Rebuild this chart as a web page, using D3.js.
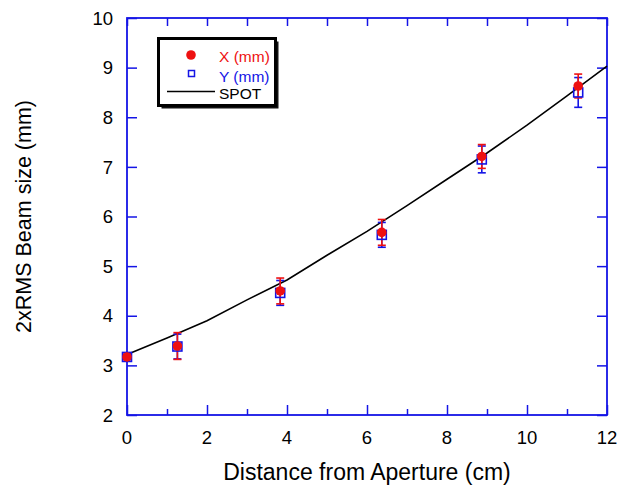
<!DOCTYPE html>
<html>
<head>
<meta charset="utf-8">
<script src="https://cdn.jsdelivr.net/npm/d3@7"></script>
<style>
  body { margin: 0; background: #fff; }
  svg text { font-family: "Liberation Sans", Arial, sans-serif; }
</style>
</head>
<body>
<svg id="chart" width="618" height="485"></svg>
<script>
// measured positions (cm) and beam sizes (mm)
const distance = [0, 1.26, 3.83, 6.37, 8.87, 11.28];
const xSize = [3.17, 3.39, 4.5, 5.68, 7.21, 8.63];
const xErr = [0.05, 0.27, 0.26, 0.26, 0.24, 0.24];
const ySize = [3.17, 3.38, 4.46, 5.63, 7.15, 8.5];
const yErr = [0.05, 0.25, 0.25, 0.25, 0.27, 0.3];

// SPOT simulation curve
const spotX = [0, 1, 2, 3, 4, 5, 6, 7, 8, 9, 10, 11, 12];
const spotY = [3.22, 3.55, 3.9, 4.32, 4.72, 5.22, 5.7, 6.22, 6.75, 7.28, 7.84, 8.43, 9.03];

const xTicks = [0, 2, 4, 6, 8, 10, 12];
const yTicks = [2, 3, 4, 5, 6, 7, 8, 9, 10];

const RED = "#ee1111";
const BLUE = "#1414e6";

const svg = d3.select("#chart");
const plotL = 127, plotR = 607, plotT = 18, plotB = 415;

const x = d3.scaleLinear().domain([0, 12]).range([plotL, plotR]);
const y = d3.scaleLinear().domain([2, 10]).range([plotB, plotT]);

// frame + ticks, all inward
const minorX = d3.range(0, 13, 1);
svg.append("g")
  .attr("transform", `translate(0,${plotB})`)
  .call(d3.axisBottom(x).tickValues(minorX).tickSize(-6).tickFormat(""))
  .call(g => g.selectAll("line").attr("stroke", BLUE).attr("stroke-width", 1.5)
    .attr("y2", d => d % 2 === 0 ? -10 : -6))
  .call(g => g.select(".domain").remove());
svg.append("g")
  .attr("transform", `translate(0,${plotT})`)
  .call(d3.axisTop(x).tickValues(minorX).tickSize(-8).tickFormat(""))
  .call(g => g.selectAll("line").attr("stroke", BLUE).attr("stroke-width", 1.5))
  .call(g => g.select(".domain").remove());
svg.append("g")
  .attr("transform", `translate(${plotL},0)`)
  .call(d3.axisLeft(y).tickValues(yTicks).tickSize(-10).tickFormat(""))
  .call(g => g.selectAll("line").attr("stroke", BLUE).attr("stroke-width", 1.5))
  .call(g => g.select(".domain").remove());
svg.append("g")
  .attr("transform", `translate(${plotR},0)`)
  .call(d3.axisRight(y).tickValues(yTicks).tickSize(-10).tickFormat(""))
  .call(g => g.selectAll("line").attr("stroke", BLUE).attr("stroke-width", 1.5))
  .call(g => g.select(".domain").remove());

svg.append("rect")
  .attr("x", plotL).attr("y", plotT)
  .attr("width", plotR - plotL).attr("height", plotB - plotT)
  .attr("fill", "none").attr("stroke", BLUE).attr("stroke-width", 1.8);

// tick labels
svg.append("g").selectAll("text")
  .data(xTicks).enter().append("text")
  .attr("x", d => x(d)).attr("y", 444)
  .attr("text-anchor", "middle")
  .attr("font-size", 18.5)
  .text(d => d);
svg.append("g").selectAll("text")
  .data(yTicks).enter().append("text")
  .attr("x", 113).attr("y", d => y(d))
  .attr("dy", "0.36em")
  .attr("text-anchor", "end")
  .attr("font-size", 18.5)
  .text(d => d);

// axis titles
svg.append("text")
  .attr("x", (plotL + plotR) / 2).attr("y", 480)
  .attr("text-anchor", "middle")
  .attr("font-size", 23)
  .text("Distance from Aperture (cm)");
svg.append("text")
  .attr("transform", `translate(31,${(plotT + plotB) / 2}) rotate(-90)`)
  .attr("text-anchor", "middle")
  .attr("font-size", 21.5)
  .text("2xRMS Beam size (mm)");

// SPOT line
const line = d3.line().x(d => x(d[0])).y(d => y(d[1]));
svg.append("path")
  .datum(d3.zip(spotX, spotY))
  .attr("d", line)
  .attr("fill", "none").attr("stroke", "#000").attr("stroke-width", 1.6);

// error bars
function errorBars(vals, errs, color) {
  const g = svg.append("g").attr("stroke", color).attr("stroke-width", 1.6);
  distance.forEach((d, i) => {
    const cx = x(d), hi = y(vals[i] + errs[i]), lo = y(vals[i] - errs[i]);
    g.append("line").attr("x1", cx).attr("x2", cx).attr("y1", hi).attr("y2", lo);
    g.append("line").attr("x1", cx - 4).attr("x2", cx + 4).attr("y1", hi).attr("y2", hi);
    g.append("line").attr("x1", cx - 4).attr("x2", cx + 4).attr("y1", lo).attr("y2", lo);
  });
}
errorBars(ySize, yErr, BLUE);
errorBars(xSize, xErr, RED);

svg.append("g").selectAll("rect")
  .data(distance).enter().append("rect")
  .attr("x", d => x(d) - 4.5)
  .attr("y", (d, i) => y(ySize[i]) - 4.5)
  .attr("width", 9).attr("height", 9)
  .attr("fill", "none").attr("stroke", BLUE).attr("stroke-width", 1.6);

svg.append("g").selectAll("circle")
  .data(distance).enter().append("circle")
  .attr("cx", d => x(d))
  .attr("cy", (d, i) => y(xSize[i]))
  .attr("r", 4.8)
  .attr("fill", RED);

// legend
const leg = svg.append("g");
leg.append("rect")
  .attr("x", 161.5).attr("y", 41.5).attr("width", 117).attr("height", 67)
  .attr("fill", "#111");
leg.append("rect")
  .attr("x", 158.5).attr("y", 38.5).attr("width", 117).attr("height", 67)
  .attr("fill", "#fff").attr("stroke", "#000").attr("stroke-width", 3);
leg.append("circle").attr("cx", 191).attr("cy", 55).attr("r", 4.8).attr("fill", RED);
leg.append("rect").attr("x", 188.5).attr("y", 70.5).attr("width", 6).attr("height", 6)
  .attr("fill", "none").attr("stroke", BLUE).attr("stroke-width", 1.5);
leg.append("line").attr("x1", 167).attr("x2", 215).attr("y1", 91.5).attr("y2", 91.5)
  .attr("stroke", "#000").attr("stroke-width", 1.4);
const legText = [["X (mm)", RED, 62.3], ["Y (mm)", BLUE, 81.5], ["SPOT", "#000", 99]];
leg.selectAll("text.l").data(legText).enter().append("text")
  .attr("x", 219).attr("y", d => d[2])
  .attr("font-size", 15.5)
  .attr("fill", d => d[1])
  .text(d => d[0]);
</script>
</body>
</html>
